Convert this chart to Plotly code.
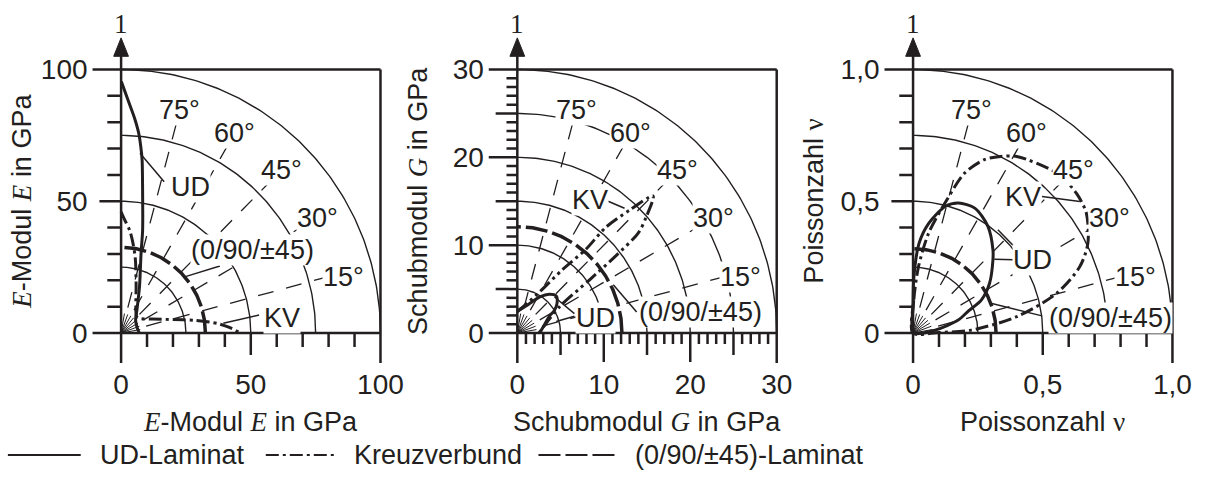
import numpy as np
import plotly.graph_objects as go

INK = "#231f20"
SANS = "Liberation Sans"
SERIF = "Liberation Serif"

# ---------------- data ----------------
panel_max = [100, 30, 1.0]
tick_vals = [[0, 50, 100], [0, 10, 20, 30], [0, 0.5, 1.0]]
tick_text = [["0", "50", "100"], ["0", "10", "20", "30"], ["0", "0,5", "1,0"]]
minor_step = [10, 1, 0.1]
mid_ticks = [[50], [5, 15, 25], [0.5]]
long_ticks = [[], [10, 20], []]
arc_radii = [[25, 50, 75, 100], [5, 10, 15, 20, 25, 30], [0.25, 0.5, 0.75, 1.0]]
angles_deg = [15, 30, 45, 60, 75]

# E-Modul (GPa)
ud_E_x = [0.1, 2.7, 5.2, 6.8, 7.6, 8.1, 8.3, 8.3, 7.7, 7.1, 6.1, 5.6, 6.2, 7.0]
ud_E_y = [95.4, 88.3, 81.5, 75.8, 70.7, 65.7, 53.0, 39.0, 30.2, 17.6, 8.7, 4.9, 2.0, 0.0]
kv_E_x = [0.0, 1.4, 3.3, 4.6, 5.5, 5.8, 5.7, 6.0, 7.5, 12.0, 20.0, 28.6, 34.0, 38.0, 42.0, 46.0]
kv_E_y = [46.0, 42.9, 39.0, 34.0, 28.0, 18.0, 10.0, 6.2, 5.5, 5.3, 5.1, 4.8, 4.2, 3.4, 2.0, 0.0]
qi_E_r = 32.5

# Schubmodul (GPa)
ud_G_x = [0.0, 1.2, 2.6, 3.7, 4.5, 4.6, 4.3, 3.7, 3.0, 2.6]
ud_G_y = [2.5, 3.2, 4.1, 4.4, 4.2, 3.4, 2.6, 1.9, 0.7, 0.0]
kv_G_x = [0.0, 2.6, 5.2, 7.9, 10.2, 13.0, 15.7, 14.9, 14.0, 11.3, 8.3, 4.9, 2.5]
kv_G_y = [2.4, 4.7, 7.2, 9.5, 12.0, 14.0, 15.6, 13.2, 11.4, 8.7, 6.0, 3.0, 0.0]
qi_G_r = 12.1

# Poissonzahl
ud_nu_x = [0.0, 0.0, 0.003, 0.023, 0.061, 0.124, 0.175, 0.238, 0.289, 0.308, 0.308, 0.295,
           0.263, 0.215, 0.174, 0.085, 0.0]
ud_nu_y = [0.0, 0.1, 0.21, 0.34, 0.417, 0.48, 0.493, 0.474, 0.404, 0.316, 0.278, 0.189,
           0.125, 0.085, 0.049, 0.011, 0.0]
kv_nu_x = [0.0, 0.003, 0.021, 0.06, 0.123, 0.199, 0.275, 0.338, 0.40, 0.554, 0.63, 0.668,
           0.674, 0.643, 0.554, 0.40, 0.224, 0.1, 0.0]
kv_nu_y = [0.0, 0.127, 0.252, 0.379, 0.493, 0.607, 0.658, 0.67, 0.67, 0.607, 0.53, 0.455,
           0.341, 0.252, 0.151, 0.062, 0.011, 0.002, 0.0]
qi_nu_r = 0.32

ud_curves = [(ud_E_x, ud_E_y), (ud_G_x, ud_G_y), (ud_nu_x, ud_nu_y)]
kv_curves = [(kv_E_x, kv_E_y), (kv_G_x, kv_G_y), (kv_nu_x, kv_nu_y)]
qi_radius = [qi_E_r, qi_G_r, qi_nu_r]

# curve labels: (text, x, y) and leader lines (x0, y0, x1, y1)
curve_labels = [
    [("UD", 26.6, 55.4), ("(0/90/±45)", 50.7, 31.5), ("KV", 61.9, 5.7)],
    [("KV", 8.46, 15.1), ("UD", 9.0, 1.67), ("(0/90/±45)", 21.2, 2.4)],
    [("KV", 0.424, 0.518), ("UD", 0.462, 0.278), ("(0/90/±45)", 0.763, 0.056)],
]
leaders = [
    [(7.3, 68.2, 16.6, 57.4), (24.8, 21.4, 38.1, 25.4), (39.4, 3.7, 53.2, 6.8)],
    [(10.5, 15.0, 12.4, 14.2), (4.3, 4.1, 6.6, 2.2), (4.5, 1.3, 6.6, 1.9), (11.1, 5.5, 13.8, 2.4)],
    [(0.497, 0.518, 0.643, 0.499), (0.313, 0.28, 0.389, 0.278), (0.327, 0.392, 0.39, 0.328),
     (0.30, 0.113, 0.497, 0.065)],
]

ser = lambda s: f'<span style="font-family:{SERIF};font-style:italic">{s}</span>'
x_titles = [f"{ser('E')}-Modul {ser('E')} in GPa", f"Schubmodul {ser('G')} in GPa",
            f'Poissonzahl <span style="font-family:{SERIF}">ν</span>']
y_titles = x_titles

legend_names = ["UD-Laminat", "Kreuzverbund", "(0/90/±45)-Laminat"]

# ---------------- layout geometry (page pixels) ----------------
W, H = 1220, 481
ORIGIN_X = [123, 525.5, 927.5]
ORIGIN_Y = 333
FULL = 263.5

def PX(x):
    return x / W

def PY(y):
    return 1 - y / H

fig = go.Figure()
annotations = []
shapes = []
layout_axes = {}

def seg_add(xs, ys, a, b, c, d):
    xs += [a, c, None]
    ys += [b, d, None]

for p in range(3):
    m = panel_max[p]
    u = m / FULL          # data units per pixel
    ox = ORIGIN_X[p]
    xa = "x" if p == 0 else f"x{p+1}"
    ya = "y" if p == 0 else f"y{p+1}"
    xk = "xaxis" if p == 0 else f"xaxis{p+1}"
    yk = "yaxis" if p == 0 else f"yaxis{p+1}"

    left_px, right_px = ox - 31, ox + FULL + 4
    bot_px, top_px = ORIGIN_Y + 31, 14
    tf = dict(family=SANS, size=28, color=INK)
    layout_axes[xk] = dict(domain=[PX(left_px), PX(right_px)], range=[-31 * u, (FULL + 4) * u],
                           showgrid=False, zeroline=False, showline=False, ticks="",
                           tickvals=tick_vals[p], ticktext=tick_text[p], ticklabelstandoff=1,
                           tickfont=tf, anchor=ya, fixedrange=True)
    layout_axes[yk] = dict(domain=[PY(bot_px), PY(top_px)], range=[-31 * u, (ORIGIN_Y - top_px) * u],
                           showgrid=False, zeroline=False, showline=False, ticks="",
                           tickvals=tick_vals[p], ticktext=tick_text[p], ticklabelstandoff=2,
                           tickfont=tf, anchor=xa, fixedrange=True)

    # arcs
    th = np.radians(np.linspace(0, 90, 121))
    ax_, ay_ = [], []
    for r in arc_radii[p]:
        ax_ += list(r * np.cos(th)) + [None]
        ay_ += list(r * np.sin(th)) + [None]
    fig.add_trace(go.Scatter(x=ax_, y=ay_, mode="lines", xaxis=xa, yaxis=ya,
                             line=dict(color=INK, width=1.4), hoverinfo="skip", showlegend=False))
    # rays
    rx, ry = [], []
    for a in angles_deg:
        t = np.radians(a)
        seg_add(rx, ry, 0.1 * m * np.cos(t), 0.1 * m * np.sin(t), 0.97 * m * np.cos(t), 0.97 * m * np.sin(t))
    fig.add_trace(go.Scatter(x=rx, y=ry, mode="lines", xaxis=xa, yaxis=ya,
                             line=dict(color=INK, width=1.3, dash="16px,13px"), hoverinfo="skip",
                             showlegend=False))
    # fan at origin
    fx, fy = [], []
    for a in range(10, 90, 10):
        t = np.radians(a)
        seg_add(fx, fy, 0, 0, 0.075 * m * np.cos(t), 0.075 * m * np.sin(t))
    fig.add_trace(go.Scatter(x=fx, y=fy, mode="lines", xaxis=xa, yaxis=ya,
                             line=dict(color=INK, width=1), hoverinfo="skip", showlegend=False))

    # frame, axes, ticks
    sx, sy = [], []
    seg_add(sx, sy, 0, -30 * u, 0, 1.055 * FULL * u)
    seg_add(sx, sy, -29 * u, 0, m, 0)
    seg_add(sx, sy, -29 * u, m, m, m)
    seg_add(sx, sy, m, m, m, -30 * u)
    step = minor_step[p]
    n = int(round(m / step))
    for k in range(1, n):
        v = k * step
        if any(abs(v - t) < 1e-9 for t in mid_ticks[p]):
            L = 22
        elif any(abs(v - t) < 1e-9 for t in long_ticks[p]):
            L = 29
        else:
            L = 14 if p != 1 else 11
        seg_add(sx, sy, v, 0, v, -L * u)
        seg_add(sx, sy, 0, v, -L * u, v)
    fig.add_trace(go.Scatter(x=sx, y=sy, mode="lines", xaxis=xa, yaxis=ya,
                             line=dict(color=INK, width=2.5), hoverinfo="skip", showlegend=False))
    # arrow head
    fig.add_trace(go.Scatter(x=[-7.5 * u, 7.5 * u, 0, -7.5 * u],
                             y=[1.05 * FULL * u, 1.05 * FULL * u, 1.12 * FULL * u, 1.05 * FULL * u],
                             mode="lines", fill="toself", fillcolor=INK, xaxis=xa, yaxis=ya,
                             line=dict(color=INK, width=1), hoverinfo="skip", showlegend=False))

    # quasi-isotropic laminate (constant value)
    r = qi_radius[p]
    fig.add_trace(go.Scatter(x=r * np.cos(th), y=r * np.sin(th), mode="lines", xaxis=xa, yaxis=ya,
                             line=dict(color=INK, width=3.5, dash="22px,5px"),
                             hoverinfo="skip", showlegend=False))
    # KV
    kx, ky = kv_curves[p]
    fig.add_trace(go.Scatter(x=kx, y=ky, mode="lines", xaxis=xa, yaxis=ya,
                             line=dict(color=INK, width=3,
                                       dash="13px,4px,3px,4px,3px,4px" if p == 1 else "13px,4px,3px,4px",
                                       shape="spline", smoothing=0.8),
                             hoverinfo="skip", showlegend=False))
    # UD
    ux, uy = ud_curves[p]
    fig.add_trace(go.Scatter(x=ux, y=uy, mode="lines", xaxis=xa, yaxis=ya,
                             line=dict(color=INK, width=3, shape="spline", smoothing=0.8),
                             hoverinfo="skip", showlegend=False))
    # leaders
    lx, ly = [], []
    for (a, b, c, d) in leaders[p]:
        seg_add(lx, ly, a, b, c, d)
    fig.add_trace(go.Scatter(x=lx, y=ly, mode="lines", xaxis=xa, yaxis=ya,
                             line=dict(color=INK, width=1.5), hoverinfo="skip", showlegend=False))

    # angle labels
    for a in angles_deg:
        t = np.radians(a if a != 15 else 14)
        rr = 0.875 * m if a != 15 else 0.885 * m
        annotations.append(dict(x=rr * np.cos(t), y=rr * np.sin(t), xref=xa, yref=ya,
                                xanchor="center", yanchor="middle",
                                text=f"{a}°", showarrow=False, bgcolor="white", borderpad=0,
                                font=dict(family=SANS, size=27, color=INK)))
    for (txt, x, y) in curve_labels[p]:
        annotations.append(dict(x=x, y=y, xref=xa, yref=ya, text=txt, showarrow=False,
                                xanchor="center", yanchor="middle",
                                bgcolor="white", borderpad=0,
                                font=dict(family=SANS, size=27, color=INK)))
    # "1" above arrow
    annotations.append(dict(x=PX(ox), y=PY(24), xref="paper", yref="paper", text="1",
                            xanchor="center", yanchor="middle",
                            showarrow=False, font=dict(family=SERIF, size=27, color=INK)))
    # axis titles
    annotations.append(dict(x=PX(ox + FULL / 2), y=PY(422), xref="paper", yref="paper",
                            xanchor="center", yanchor="middle",
                            text=x_titles[p], showarrow=False,
                            font=dict(family=SANS, size=27, color=INK)))
    annotations.append(dict(x=PX(ox - 101), y=PY(201), xref="paper", yref="paper",
                            xanchor="center", yanchor="middle",
                            text=y_titles[p], showarrow=False, textangle=-90,
                            font=dict(family=SANS, size=27, color=INK)))

# legend (manual)
leg_lines = [(8, 82, "solid"), (270, 343, "13px,4px,3px,4px"), (547, 627, "22px,5px")]
leg_text_x = [100, 358, 643]
for (x0, x1, dash), tx, name in zip(leg_lines, leg_text_x, legend_names):
    shapes.append(dict(type="line", xref="paper", yref="paper", x0=PX(x0), x1=PX(x1),
                       y0=PY(455), y1=PY(455), line=dict(color=INK, width=2, dash=dash)))
    annotations.append(dict(x=PX(tx), y=PY(455), xref="paper", yref="paper", text=name,
                            xanchor="left", yanchor="middle", showarrow=False,
                            font=dict(family=SANS, size=27, color=INK)))

fig.update_layout(width=W, height=H, margin=dict(l=0, r=0, t=0, b=0),
                  paper_bgcolor="white", plot_bgcolor="white", showlegend=False,
                  annotations=annotations, shapes=shapes, **layout_axes)
fig.write_html("out.html", config={"displayModeBar": False},
               post_script="document.body.style.margin='0';document.body.style.overflow='hidden';")
